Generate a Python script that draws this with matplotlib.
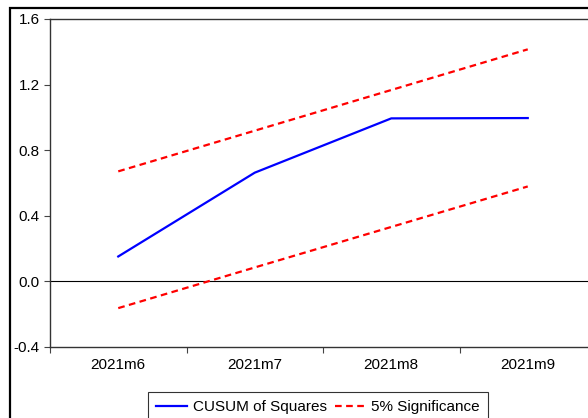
import matplotlib.pyplot as plt
from matplotlib.patches import Rectangle

# datos
periods = ['2021m6', '2021m7', '2021m8', '2021m9']
cusum_sq = [0.152, 0.663, 0.994, 0.996]
upper = [0.671, 0.919, 1.167, 1.415]
lower = [-0.163, 0.085, 0.332, 0.579]
yticks = [-0.4, 0.0, 0.4, 0.8, 1.2, 1.6]

plt.rcParams['font.family'] = ['Liberation Sans', 'DejaVu Sans']

W, H = 588, 418
fig = plt.figure(figsize=(W / 100, H / 100), dpi=100)

# marco exterior (se sale por la derecha y abajo)
fig.patches.append(Rectangle((10 / W, -0.1), 1.2, 1 - 8 / H + 0.1,
                             transform=fig.transFigure, fill=False,
                             edgecolor='black', linewidth=1.6))

left, right, top, bottom = 50, 596, 19, 347
ax = fig.add_axes([left / W, 1 - bottom / H, (right - left) / W, (bottom - top) / H])

x = list(range(len(periods)))
ax.plot(x, cusum_sq, color='#0000ff', linewidth=1.6, label='CUSUM of Squares')
ax.plot(x, upper, color='#ff0000', linewidth=1.6, dashes=(3, 2), label='5% Significance')
ax.plot(x, lower, color='#ff0000', linewidth=1.6, dashes=(3, 2))
ax.axhline(0, color='black', linewidth=0.8, zorder=1)

ax.set_xlim(-0.5, len(periods) - 0.5)
ax.set_ylim(-0.4, 1.6)
ax.set_yticks(yticks)
ax.set_yticklabels([f'{v:.1f}' for v in yticks])

# marcas en los limites de categoria, etiquetas centradas
ax.set_xticks([i - 0.5 for i in range(len(periods) + 1)])
ax.set_xticklabels([])
ax.set_xticks(x, minor=True)
ax.set_xticklabels(periods, minor=True)
ax.tick_params(axis='x', which='major', direction='out', length=4.5, width=0.8, color='#444444')
ax.tick_params(axis='x', which='minor', length=0, pad=8, labelsize=11)
ax.tick_params(axis='y', direction='out', length=4.5, width=0.8, color='#444444', labelsize=11, pad=3)

for s in ['left', 'top', 'bottom', 'right']:
    ax.spines[s].set_color('#333333')
    ax.spines[s].set_linewidth(1.0)

leg = fig.legend(loc='upper center', bbox_to_anchor=(318 / W, 1 - 392 / H),
                 ncol=2, fontsize=11, frameon=True, fancybox=False,
                 handlelength=2.0, columnspacing=0.5, borderpad=0.55,
                 handletextpad=0.4, borderaxespad=0)
leg.get_frame().set_edgecolor('black')
leg.get_frame().set_linewidth(0.8)

fig.savefig('out.png', dpi=100)
